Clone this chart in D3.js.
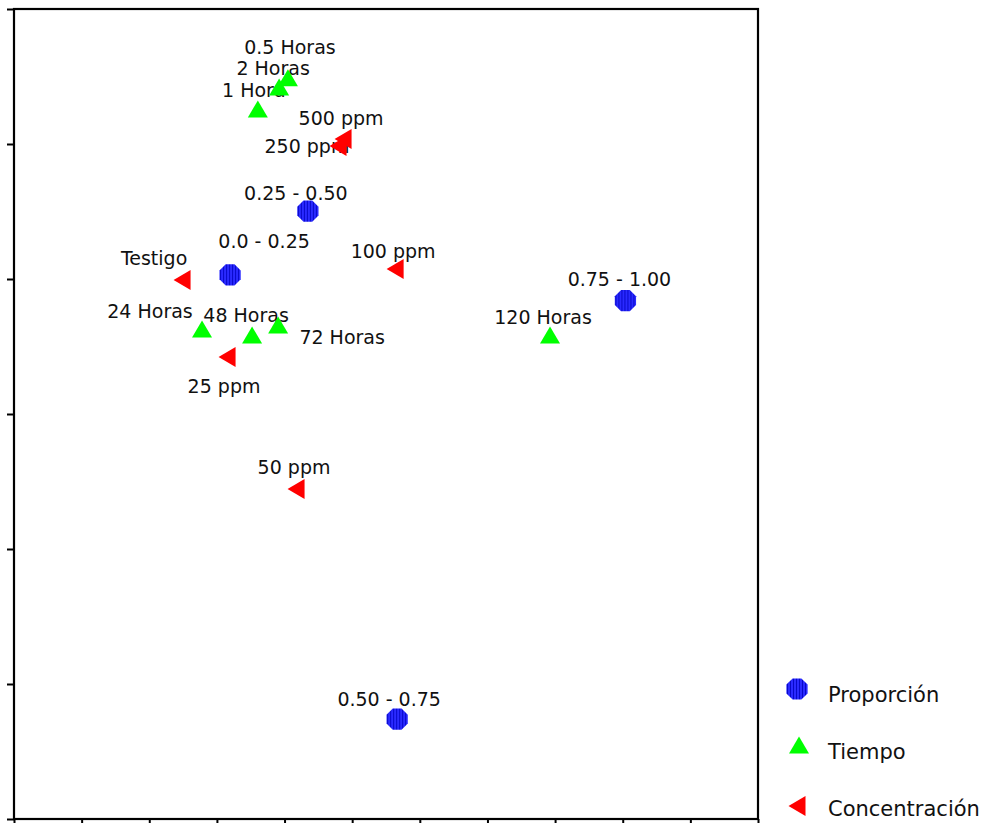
<!DOCTYPE html>
<html>
<head>
<meta charset="utf-8">
<script src="https://cdn.jsdelivr.net/npm/d3@7/dist/d3.min.js"></script>
<style>
  html, body { margin: 0; padding: 0; background: #fff; }
  svg { display: block; font-family: "DejaVu Sans", Verdana, sans-serif; }
</style>
</head>
<body>
<svg id="chart" width="984" height="823"></svg>
<script>
// Correspondence map: category coordinates on dimensions 1 and 2
const proporcionLabels = ["0.0 - 0.25", "0.25 - 0.50", "0.50 - 0.75", "0.75 - 1.00"];
const proporcionX = [-0.561, -0.331, -0.067, 0.608];
const proporcionY = [0.412, 0.601, -0.904, 0.336];

const tiempoLabels = ["0.5 Horas", "1 Hora", "2 Horas", "24 Horas", "48 Horas", "72 Horas", "120 Horas"];
const tiempoX = [-0.390, -0.479, -0.416, -0.644, -0.496, -0.419, 0.385];
const tiempoY = [0.996, 0.904, 0.969, 0.252, 0.234, 0.264, 0.234];

const concentracionLabels = ["Testigo", "25 ppm", "50 ppm", "100 ppm", "250 ppm", "500 ppm"];
const concentracionX = [-0.703, -0.570, -0.366, -0.073, -0.242, -0.227];
const concentracionY = [0.397, 0.169, -0.222, 0.430, 0.794, 0.815];

const xTicks = d3.range(-1.2, 1.0001, 0.2);
const yTicks = d3.range(-1.2, 1.2001, 0.4);

const seriesNames = ["Proporción", "Tiempo", "Concentración"];

// Label placement around each marker (pixels)
const labelOffset = {
  "0.0 - 0.25": [34, -34], "0.25 - 0.50": [-12, -18], "0.50 - 0.75": [-8, -20], "0.75 - 1.00": [-6, -21],
  "0.5 Horas": [2, -31], "1 Hora": [-4, -19], "2 Horas": [-6, -19], "24 Horas": [-52, -18],
  "48 Horas": [-6, -20], "72 Horas": [64, 12], "120 Horas": [-7, -18],
  "Testigo": [-28, -22], "25 ppm": [-3, 29], "50 ppm": [-2, -22], "100 ppm": [-2, -18],
  "250 ppm": [-31, 0], "500 ppm": [-2, -21]
};

const svg = d3.select("#chart");
const plotL = 14, plotR = 758, plotT = 9, plotB = 819;

const x = d3.scaleLinear().domain([-1.2, 1.0]).range([plotL, plotR]);
const y = d3.scaleLinear().domain([-1.2, 1.2]).range([plotB, plotT]);

// vertical hatching for the octagon markers
const defs = svg.append("defs");
const pat = defs.append("pattern").attr("id", "hatch").attr("patternUnits", "userSpaceOnUse")
  .attr("width", 3).attr("height", 3);
pat.append("rect").attr("width", 3).attr("height", 3).attr("fill", "#2a2aff");
pat.append("rect").attr("x", 2).attr("width", 1).attr("height", 3).attr("fill", "#0808c8");

// symbols
const octagon = (r) => {
  const pts = d3.range(8).map(i => {
    const a = Math.PI / 8 + i * Math.PI / 4;
    return [r * Math.cos(a), r * Math.sin(a)];
  });
  return "M" + pts.map(p => p.join(",")).join("L") + "Z";
};
const triUp = (w, h) => `M${-w / 2},${h / 2}L0,${-h / 2}L${w / 2},${h / 2}Z`;
const triLeft = (w, h) => `M${-w / 2},0L${w / 2},${-h / 2}L${w / 2},${h / 2}Z`;

const markerStyle = [
  { path: octagon(11.5), fill: "url(#hatch)" },
  { path: triUp(20, 17), fill: "#00ff00" },
  { path: triLeft(17, 20), fill: "#ff0000" }
];

// frame and axes
const gx = svg.append("g").attr("transform", `translate(0,${plotB})`)
  .call(d3.axisBottom(x).tickValues(xTicks).tickSize(5).tickFormat(""));
const gy = svg.append("g").attr("transform", `translate(${plotL},0)`)
  .call(d3.axisLeft(y).tickValues(yTicks).tickSize(7).tickFormat(""));
[gx, gy].forEach(g => {
  g.select(".domain").remove();
  g.selectAll(".tick line").attr("stroke", "#000").attr("stroke-width", 2);
});
svg.append("rect")
  .attr("x", plotL).attr("y", plotT).attr("width", plotR - plotL).attr("height", plotB - plotT)
  .attr("fill", "none").attr("stroke", "#000").attr("stroke-width", 2.2);

const groups = [
  { labels: proporcionLabels, xs: proporcionX, ys: proporcionY },
  { labels: tiempoLabels, xs: tiempoX, ys: tiempoY },
  { labels: concentracionLabels, xs: concentracionX, ys: concentracionY }
];

const plot = svg.append("g");
groups.forEach((g, gi) => {
  const data = g.labels.map((l, i) => ({ label: l, x: g.xs[i], y: g.ys[i] }));
  plot.selectAll(null).data(data).enter().append("text")
    .attr("x", d => x(d.x) + labelOffset[d.label][0])
    .attr("y", d => y(d.y) + labelOffset[d.label][1])
    .attr("dy", "0.36em")
    .attr("text-anchor", "middle")
    .attr("font-size", 19)
    .attr("fill", "#111")
    .text(d => d.label);
});
groups.forEach((g, gi) => {
  const data = g.labels.map((l, i) => ({ label: l, x: g.xs[i], y: g.ys[i] }));
  plot.selectAll(null).data(data).enter().append("path")
    .attr("transform", d => `translate(${x(d.x)},${y(d.y)})`)
    .attr("d", markerStyle[gi].path)
    .attr("fill", markerStyle[gi].fill);
});

// legend
const legend = svg.append("g").attr("transform", "translate(797,694)");
seriesNames.forEach((name, i) => {
  const row = legend.append("g").attr("transform", `translate(0,${i * 57})`);
  row.append("path").attr("d", markerStyle[i].path).attr("fill", markerStyle[i].fill)
    .attr("transform", i === 0 ? "translate(0,-5)" : (i === 1 ? "translate(2,-6)" : "translate(0,-2)"));
  row.append("text").attr("x", 31).attr("dy", "0.36em")
    .attr("font-size", 21).attr("fill", "#111").text(name);
});
</script>
</body>
</html>
